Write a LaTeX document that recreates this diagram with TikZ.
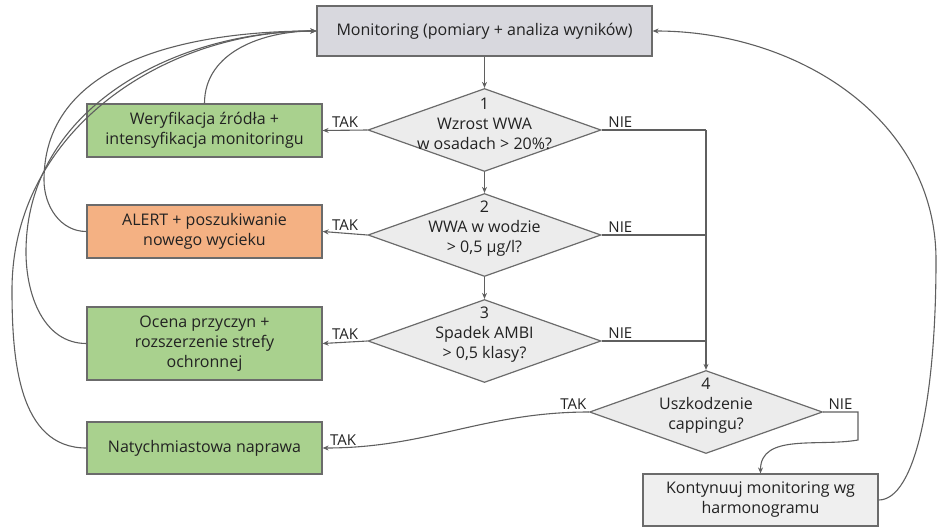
\documentclass[tikz,border=0pt]{standalone}
\usepackage{fontspec}
\setmainfont{Open Sans}
\usetikzlibrary{positioning, shapes.geometric, arrows.meta}
\definecolor{lineGrey}{HTML}{5F5F5F}
\definecolor{textDark}{HTML}{222222}
\definecolor{boxEdge}{HTML}{6B6B6B}
\definecolor{monGrey}{HTML}{D8D8DE}
\definecolor{decGrey}{HTML}{ECECEC}
\definecolor{contGrey}{HTML}{EFEFEF}
\definecolor{actGreen}{HTML}{A9D18E}
\definecolor{actOrange}{HTML}{F4B183}

\begin{document}
\begin{tikzpicture}[x=1pt, y=-1pt,
    font=\fontsize{16}{20}\selectfont,
    monBox/.style={draw=boxEdge, line width=1.2pt, rectangle, fill=monGrey, text=textDark, align=center, minimum width=335pt, minimum height=50pt},
    actionBox/.style={draw=boxEdge, line width=1.2pt, rectangle, fill=actGreen, text=textDark, align=center, minimum width=235pt, minimum height=53pt},
    alertBox/.style={actionBox, fill=actOrange},
    contBox/.style={actionBox, fill=contGrey, minimum height=52pt},
    decision/.style={draw=boxEdge, line width=1.2pt, diamond, fill=decGrey, inner sep=0pt, minimum width=233pt, minimum height=83pt},
    decText/.style={align=center, text=textDark, yshift=6pt},
    flowArrow/.style={draw=lineGrey, line width=1.1pt, -{Stealth[length=6pt, width=5pt]}},
    plainLine/.style={draw=lineGrey, line width=1.1pt},
    tagLbl/.style={text=textDark, font=\fontsize{15}{17}\selectfont, inner sep=2pt},
]
\useasboundingbox (0,0) rectangle (939,527);

\node[monBox] (mon) at (484.5,31) {Monitoring (pomiary + analiza wyników)};

\node[decision, label={[decText]center:{1\\Wzrost WWA\\w osadach > 20\%?}}] (dec1) at (484.5,130) {};
\node[decision, label={[decText]center:{2\\WWA w wodzie\\> 0,5 µg/l?}}] (dec2) at (484.5,235) {};
\node[decision, label={[decText]center:{3\\Spadek AMBI\\> 0,5 klasy?}}] (dec3) at (484.5,341) {};
\node[decision, label={[decText]center:{4\\Uszkodzenie\\cappingu?}}] (dec4) at (706,412) {};

\node[actionBox] (act1) at (204.5,130.5) {Weryfikacja źródła +\\intensyfikacja monitoringu};
\node[alertBox] (act2) at (204.5,231.5) {ALERT + poszukiwanie\\nowego wycieku};
\node[actionBox, minimum height=73pt] (act3) at (204.5,343.5) {Ocena przyczyn +\\rozszerzenie strefy\\ochronnej};
\node[actionBox, minimum height=52pt] (act4) at (204.5,448) {Natychmiastowa naprawa};
\node[contBox] (cont) at (760.5,500) {Kontynuuj monitoring wg\\harmonogramu};

\coordinate (nieTop) at (706,130);
\coordinate (nieBend) at (858,412);
\coordinate (nieDrop) at (858,440);
\coordinate (loopRight) at (936,260);
\coordinate (loop2) at (44,180);
\coordinate (loop3) at (26,252);
\coordinate (loop4) at (12,290);

\draw[flowArrow] (mon.south) -- (dec1.north);
\draw[flowArrow] (dec1.south) -- (dec2.north);
\draw[flowArrow] (dec2.south) -- (dec3.north);

\draw[flowArrow] (dec1.west) -- node[tagLbl, above] (tak1) {TAK} (act1.east);
\draw[flowArrow] (dec2.west) -- node[tagLbl, above] (tak2) {TAK} (act2.east);
\draw[flowArrow] (dec3.west) -- node[tagLbl, above] (tak3) {TAK} (act3.east);
\draw[flowArrow] (dec4.west) to[out=180, in=0]
    node[tagLbl, above left, pos=0] (tak4a) {TAK}
    node[tagLbl, above right, pos=1, xshift=5pt] (tak4b) {TAK} (act4.east);

\draw[plainLine] (dec1.east) -- node[tagLbl, above, pos=0.18] (nie1) {NIE} (nieTop);
\draw[plainLine] (dec2.east) -- node[tagLbl, above, pos=0.18] (nie2) {NIE} (dec2.east -| nieTop);
\draw[plainLine] (dec3.east) -- node[tagLbl, above, pos=0.18] (nie3) {NIE} (dec3.east -| nieTop);
\draw[flowArrow] (nieTop) -- (dec4.north);
\draw[flowArrow] (dec4.east) -- node[tagLbl, above] (nie4) {NIE} (nieBend) -- (nieDrop)
    to[out=190, in=90] (cont.north);

\draw[flowArrow] (cont.east) .. controls (915,500) and (936,400) .. (loopRight)
    to[out=90, in=0] (mon.east);

\draw[flowArrow] (act1.north) to[out=90, in=180] (mon.west);
\draw[flowArrow] (act2.west) to[out=180, in=-90] (loop2) to[out=90, in=180] (mon.west);
\draw[flowArrow] (act3.west) to[out=180, in=-90] (loop3) to[out=90, in=180] (mon.west);
\draw[flowArrow] (act4.west) to[out=180, in=-90] (loop4) to[out=90, in=180] (mon.west);
\end{tikzpicture}
\end{document}
